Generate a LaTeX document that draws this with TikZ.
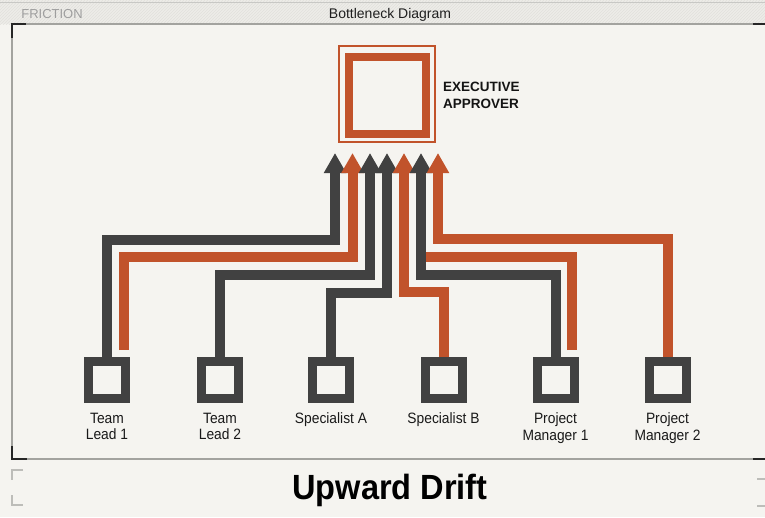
\documentclass[tikz,border=0pt]{standalone}
\usepackage{fontspec}
\setmainfont{Liberation Sans}
\newfontfamily\condfont[FakeStretch=0.92]{Liberation Sans}
\newfontfamily\driftfont[FakeStretch=0.93]{Liberation Sans}
\usetikzlibrary{arrows.meta,patterns}
\definecolor{bg}{HTML}{F5F4F0}
\definecolor{hdr}{HTML}{EDECE8}
\definecolor{hatch}{HTML}{E2E1DC}
\definecolor{dk}{HTML}{414141}
\definecolor{org}{HTML}{C1532B}
\definecolor{framec}{HTML}{A3A39F}
\definecolor{tick}{HTML}{BDBDB9}
\begin{document}
\begin{tikzpicture}[x=1pt,y=-1pt,
  flow/.style={line width=10pt, line join=miter},
  dkflow/.style={flow, draw=dk, -{Triangle[width=21pt,length=20pt]}},
  orflow/.style={flow, draw=org, -{Triangle[width=21pt,length=20pt]}},
  orline/.style={flow, draw=org},
  role/.style={draw=dk, line width=9pt, minimum size=37pt, inner sep=0pt, fill=bg},
  lbl/.style={font=\condfont\fontsize{15}{16.5}\selectfont, align=center, inner sep=0pt, anchor=north, text=black!90},
  hdrtext/.style={inner sep=0pt, anchor=base}
]
\useasboundingbox (0,0) rectangle (765,517);
% background
\fill[bg] (0,0) rectangle (765,517);
\fill[hdr] (0,0) rectangle (765,24);
\fill[pattern=north east lines, pattern color=hatch] (0,0) rectangle (765,24);
\draw[framec!60, line width=0.8pt] (0,2) -- (765,2);
% frame
\draw[framec, line width=1.3pt] (12,459) -- (12,24) -- (765,24);
\draw[framec, line width=1.3pt] (12,459) -- (765,459);
\draw[black!85, line width=2pt] (12,38) -- (12,24) -- (26,24);
\draw[black!85, line width=2pt] (12,446) -- (12,459) -- (27,459);
\draw[black!85, line width=2pt] (753,24) -- (765,24);
\draw[black!85, line width=2pt] (753,459) -- (765,459);
% bottom band brackets
\draw[tick, line width=1.2pt] (23,470) -- (12,470) -- (12,480);
\draw[tick, line width=1.2pt] (12,495) -- (12,505) -- (23,505);
\draw[tick, line width=1.2pt] (757,479) -- (765,479);
\draw[tick, line width=1.2pt] (757,506) -- (765,506);
% header texts
\node[hdrtext, text=black!38, font=\fontsize{13}{15}\selectfont] (fric) at (52,18) {FRICTION};
\node[hdrtext, text=black!88, font=\fontsize{14}{15}\selectfont] (title) at (390,18) {Bottleneck Diagram};
% executive approver
\node[draw=org, line width=2pt, minimum size=96pt, inner sep=0pt] (execout) at (387,94) {};
\node[draw=org, line width=8pt, minimum size=77pt, inner sep=0pt] (exec) at (387.5,95) {};
\node[font=\bfseries\fontsize{13.5}{17}\selectfont, align=left, anchor=west, inner sep=0pt, text=black!92] (execlbl) at (443,95.5) {EXECUTIVE\\APPROVER};
% arrow tips
\coordinate (t1) at (335,153);
\coordinate (t2) at (352.5,153);
\coordinate (t3) at (370,153);
\coordinate (t4) at (387,153);
\coordinate (t5) at (404,153);
\coordinate (t6) at (421,153);
\coordinate (t7) at (438,153);
% role boxes (positions)
\coordinate (ptl1) at (107,380);
\coordinate (ptl2) at (220,380);
\coordinate (pspa) at (331,380);
\coordinate (pspb) at (443.5,380);
\coordinate (ppm1) at (555.5,380);
\coordinate (ppm2) at (667.5,380);
% free ends
\coordinate (o1s) at (124,350);
\coordinate (o6s) at (572,350);
% connectors
\draw[orline] (o6s) |- (t6 |- 0,257);
\draw[dkflow] (ptl1 |- 0,362) |- (t1 |- 0,240) -- (t1);
\draw[orflow] (o1s) |- (t2 |- 0,257) -- (t2);
\draw[dkflow] (ptl2 |- 0,362) |- (t3 |- 0,275) -- (t3);
\draw[dkflow] (pspa |- 0,362) |- (t4 |- 0,293) -- (t4);
\draw[orflow] (pspb |- 0,362) |- (t5 |- 0,292) -- (t5);
\draw[dkflow] (ppm1 |- 0,362) |- (t6 |- 0,275) -- (t6);
\draw[orflow] (ppm2 |- 0,362) |- (t7 |- 0,239) -- (t7);
% role boxes
\node[role] (tl1) at (ptl1) {};
\node[role] (tl2) at (ptl2) {};
\node[role] (spa) at (pspa) {};
\node[role] (spb) at (pspb) {};
\node[role] (pm1) at (ppm1) {};
\node[role] (pm2) at (ppm2) {};
\node[lbl] at ([yshift=-9.5pt]tl1.south) {Team\\Lead 1};
\node[lbl] at ([yshift=-9.5pt]tl2.south) {Team\\Lead 2};
\node[lbl] at ([yshift=-9.5pt]spa.south) {Specialist A};
\node[lbl] at ([yshift=-9.5pt]spb.south) {Specialist B};
\node[lbl] at ([yshift=-9.5pt]pm1.south) {Project\\Manager 1};
\node[lbl] at ([yshift=-9.5pt]pm2.south) {Project\\Manager 2};
% footer title
\node[font=\driftfont\bfseries\fontsize{35}{38}\selectfont, inner sep=0pt, anchor=base, text=black] (drift) at (390,499.5) {Upward Drift};
\end{tikzpicture}
\end{document}
